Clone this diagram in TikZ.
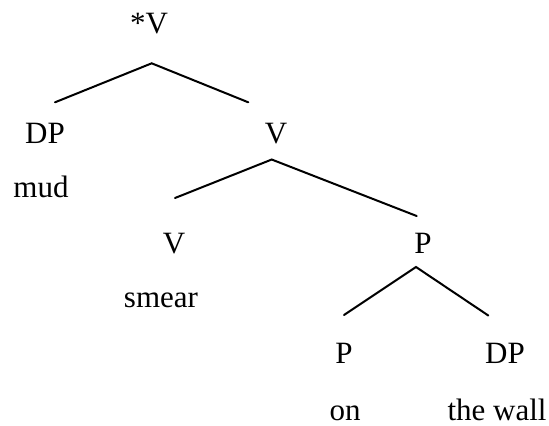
\documentclass[tikz,border=0pt]{standalone}
\usepackage{fontspec}
\setmainfont{Liberation Serif}
\usepackage{tikz}
\usetikzlibrary{positioning}

\begin{document}
\begin{tikzpicture}[x=0.5pt, y=-0.5pt,
  lab/.style={anchor=base, inner sep=0pt, font=\fontsize{15.5}{18}\selectfont},
  branch/.style={line width=1pt, line cap=round, line join=miter}]
\useasboundingbox (0,0) rectangle (549,425);
% labels
\node[lab] (vstar) at (149,33)  {*V};
\node[lab] (dp1)   at (45,143)  {DP};
\node[lab] (mud)   at (41,197)  {mud};
\node[lab] (vbar)  at (276,143) {V};
\node[lab] (vhead) at (174,253) {V};
\node[lab] (smear) at (161,307) {smear};
\node[lab] (pp)    at (423,253) {P};
\node[lab] (phead) at (344,363) {P};
\node[lab] (dp2)   at (505,363) {DP};
\node[lab] (on)    at (345,420) {on};
\node[lab] (wall)  at (497,420) {the wall};
% branch points
\coordinate (vstar-top) at (151.7,63.3);
\coordinate (dp1-top)   at (55,102.3);
\coordinate (vbar-bot)  at (248.3,102.3);
\coordinate (vbar-top)  at (271.7,159.5);
\coordinate (vhead-top) at (175,198);
\coordinate (pp-bot)    at (416.7,216);
\coordinate (pp-top)    at (416,267);
\coordinate (phead-top) at (344,315);
\coordinate (dp2-top)   at (488.3,315.5);
\draw[branch] (dp1-top) -- (vstar-top) -- (vbar-bot);
\draw[branch] (vhead-top) -- (vbar-top) -- (pp-bot);
\draw[branch] (phead-top) -- (pp-top) -- (dp2-top);
\end{tikzpicture}
\end{document}
